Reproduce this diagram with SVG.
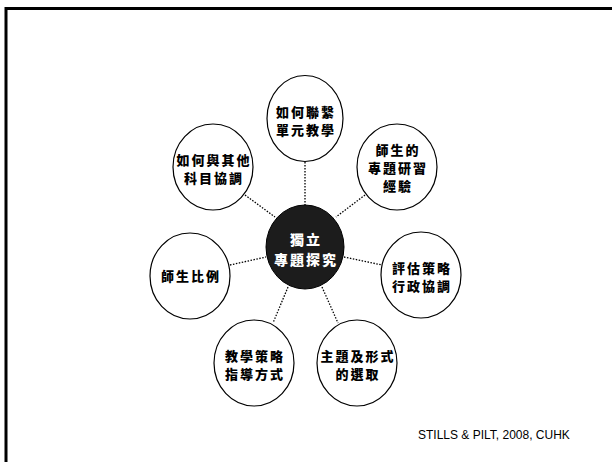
<svg xmlns="http://www.w3.org/2000/svg" width="612" height="462" viewBox="0 0 612 462">
<style>
.node ellipse{fill:#fff;stroke:#000;stroke-width:1.2}
.t{font-family:"Noto Sans CJK TC","Noto Sans CJK SC",sans-serif;font-weight:900;font-size:13px;fill:#000;text-anchor:middle;letter-spacing:2px}
.w{fill:#fff;font-size:14px}
.conn line{stroke:#000;stroke-width:1.3;stroke-dasharray:1.5 1.5}
</style>
<rect width="612" height="462" fill="#fff"/>
<path d="M6 462 V8.5 H612" fill="none" stroke="#000" stroke-width="3"/>
<g class="conn">
<line x1="305" y1="162" x2="305" y2="205"/>
<line x1="245" y1="195" x2="275" y2="217"/>
<line x1="365" y1="195" x2="336" y2="217"/>
<line x1="230" y1="265" x2="266" y2="257"/>
<line x1="344" y1="257" x2="382" y2="265"/>
<line x1="288" y1="287" x2="273" y2="323"/>
<line x1="322" y1="287" x2="338" y2="323"/>
</g>
<g id="center">
<ellipse cx="305" cy="247" rx="39" ry="42" fill="#1c1c1c" stroke="#000" stroke-width="1"/>
<text class="t w" x="306" y="245">獨立</text>
<text class="t w" x="306" y="265">專題探究</text>
</g>
<g id="n-top" class="node">
<ellipse cx="305" cy="118.5" rx="38" ry="43"/>
<text class="t" x="306" y="117">如何聯繫</text>
<text class="t" x="306" y="135">單元教學</text>
</g>
<g id="n-topleft" class="node">
<ellipse cx="213" cy="167" rx="40" ry="43"/>
<text class="t" x="214" y="165">如何與其他</text>
<text class="t" x="214" y="183">科目協調</text>
</g>
<g id="n-topright" class="node">
<ellipse cx="397" cy="167" rx="40" ry="43"/>
<text class="t" x="398" y="155">師生的</text>
<text class="t" x="398" y="173">專題研習</text>
<text class="t" x="398" y="191">經驗</text>
</g>
<g id="n-left" class="node">
<ellipse cx="190" cy="276" rx="40" ry="43"/>
<text class="t" x="191" y="281">師生比例</text>
</g>
<g id="n-right" class="node">
<ellipse cx="421" cy="275" rx="40" ry="43"/>
<text class="t" x="422" y="273">評估策略</text>
<text class="t" x="422" y="291">行政協調</text>
</g>
<g id="n-bottomleft" class="node">
<ellipse cx="254" cy="363" rx="40" ry="43"/>
<text class="t" x="255" y="361">教學策略</text>
<text class="t" x="255" y="379">指導方式</text>
</g>
<g id="n-bottomright" class="node">
<ellipse cx="357" cy="363" rx="40" ry="43"/>
<text class="t" x="358" y="361">主題及形式</text>
<text class="t" x="358" y="379">的選取</text>
</g>
<text x="418" y="439" font-family="Liberation Sans, Arial, sans-serif" font-size="12" fill="#000">STILLS &amp; PILT, 2008, CUHK</text>
</svg>
